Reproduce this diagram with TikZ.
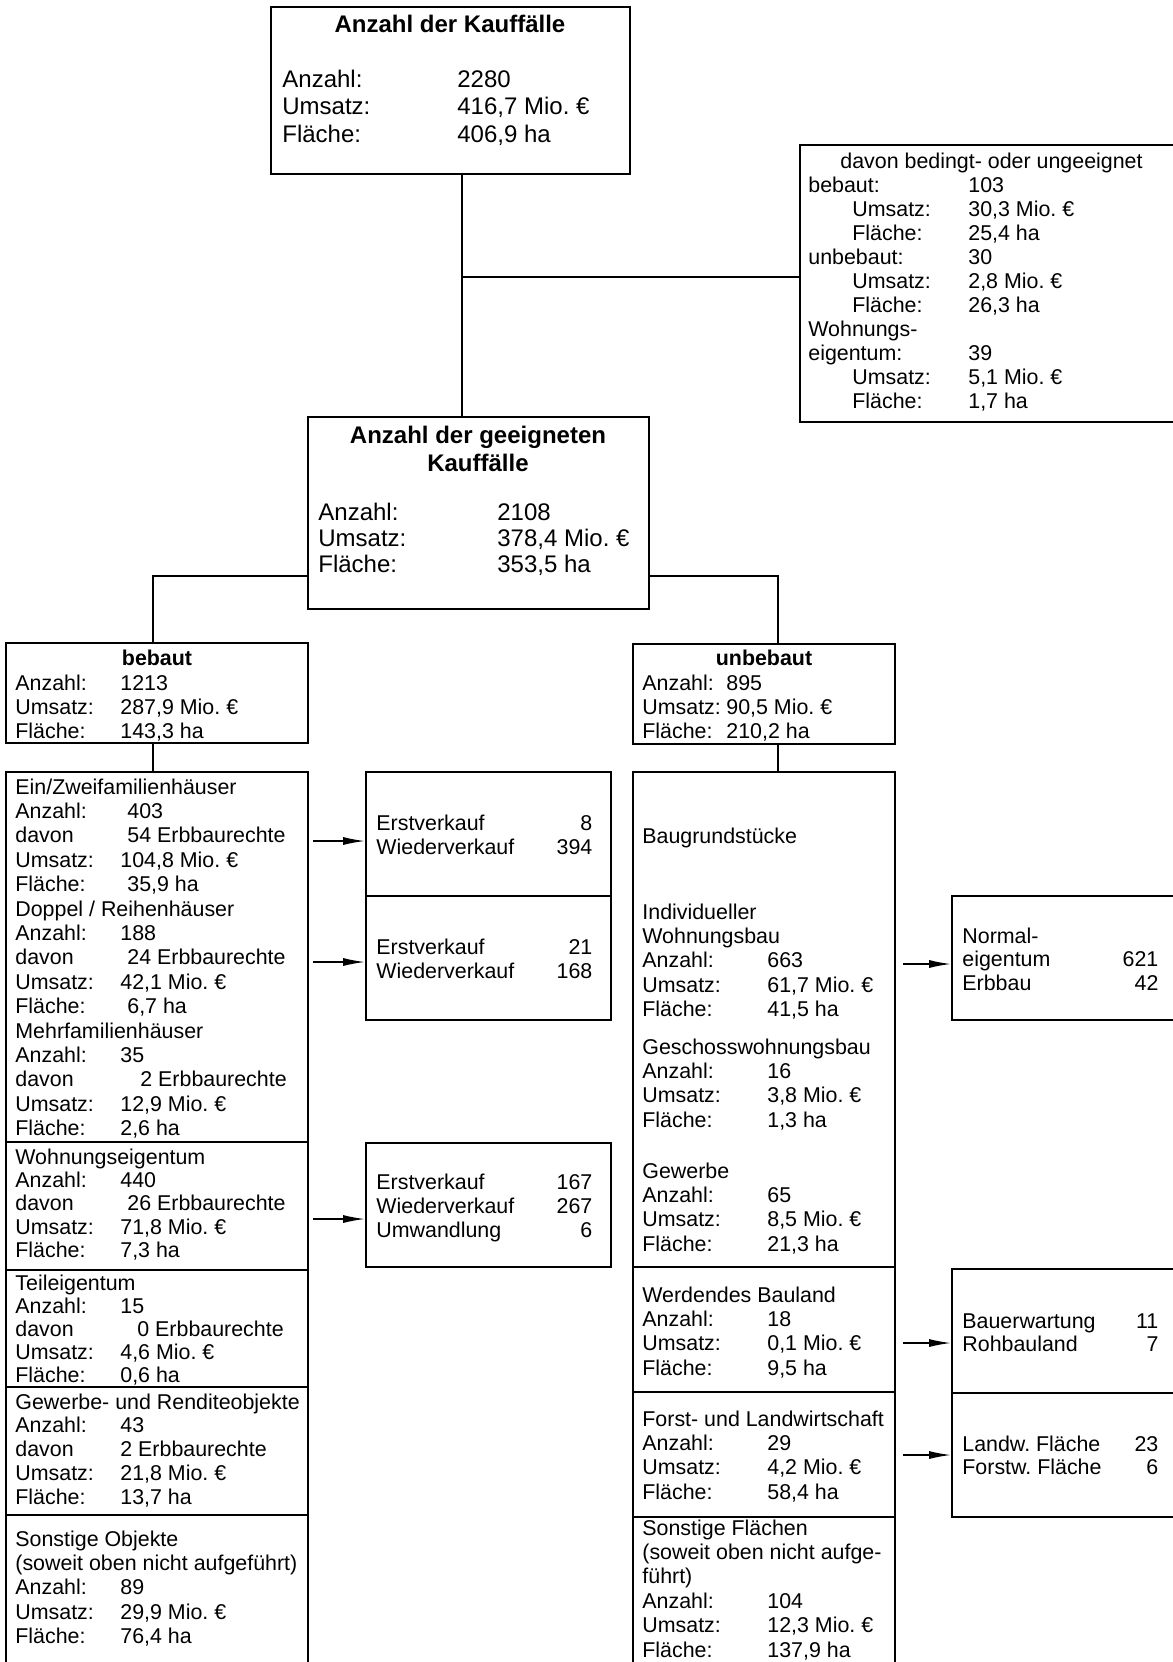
\documentclass[tikz,border=0pt]{standalone}
\usepackage{fontspec}
\setmainfont{Liberation Sans}
\usetikzlibrary{arrows.meta, fit, positioning}
\frenchspacing

\newlength\lw
\newlength\nw
\newcommand\blk[1]{\begin{tabular}[t]{@{}l@{}}#1\end{tabular}}
\newcommand\rw[2]{\makebox[\lw][l]{#1}#2}
\newcommand\ri[2]{\hspace*{22pt}\makebox[\dimexpr\lw-22pt\relax][l]{#1}#2}
\newcommand\nr[2]{\makebox[\nw][l]{#1}\llap{#2}}
\newcommand\vs{\hspace*{3.5pt}}

\begin{document}
\begin{tikzpicture}[x=0.5pt, y=-0.5pt,
    box/.style={draw, line width=1pt, inner sep=0pt},
    sbox/.style={draw, line width=0.8pt, inner sep=0pt},
    txt/.style={anchor=base west, inner sep=0pt, font=\fontsize{10.7}{12.2}\selectfont},
    big/.style={anchor=base west, inner sep=0pt, font=\fontsize{12}{13.75}\selectfont},
    ttl/.style={anchor=base, inner sep=0pt, font=\fontsize{12}{14}\selectfont\bfseries},
    sttl/.style={anchor=base, inner sep=0pt, font=\fontsize{10.7}{12.2}\selectfont\bfseries},
    lw/.style={execute at begin node={\setlength\lw{#1}}},
    nw/.style={execute at begin node={\setlength\nw{#1}}},
    con/.style={line width=1pt},
    arr/.style={-{Latex[length=11pt,width=4pt]}, line width=0.8pt}]
    \useasboundingbox (0,0) rectangle (1173,1662);
    \clip (0,0) rectangle (1173,1662);

    \node[box, fit={(271,7) (630,174)}] (total) {};
    \node[box, fit={(800,145) (1190,422)}] (davon) {};
    \node[box, fit={(308,417) (649,609)}] (geeig) {};
    \node[box, fit={(6,643) (308,743)}] (bebaut) {};
    \node[box, fit={(633,644) (895,744)}] (unbeb) {};

    \node[box, fit={(6,772) (308,1142)}] (haus) {};
    \node[box, fit={(6,1142) (308,1270)}] (wohn) {};
    \node[box, fit={(6,1270) (308,1387)}] (teil) {};
    \node[box, fit={(6,1387) (308,1515)}] (gew) {};
    \node[box, fit={(6,1515) (308,1700)}] (sonst) {};

    \node[box, fit={(633,772) (895,1267)}] (bau) {};
    \node[box, fit={(633,1267) (895,1392)}] (werd) {};
    \node[box, fit={(633,1392) (895,1517)}] (forst) {};
    \node[box, fit={(633,1517) (895,1700)}] (sfl) {};

    \node[sbox, fit={(366,772) (611,896)}] (vk1) {};
    \node[sbox, fit={(366,896) (611,1020)}] (vk2) {};
    \node[sbox, fit={(366,1143) (611,1267)}] (vk3) {};
    \node[sbox, fit={(952,896) (1190,1020)}] (eig) {};
    \node[sbox, fit={(952,1269) (1190,1393)}] (wbl) {};
    \node[sbox, fit={(952,1393) (1190,1517)}] (lfl) {};

    \coordinate (j0) at (462,277);
    \coordinate (jl) at (153,576);
    \coordinate (jr) at (778,576);
    \draw[con] (total.south -| j0) -- (geeig.north -| j0);
    \draw[con] (j0) -- (davon.west |- j0);
    \draw[con] (geeig.west |- jl) -- (jl) -- (bebaut.north -| jl);
    \draw[con] (geeig.east |- jr) -- (jr) -- (unbeb.north -| jr);
    \draw[con] (bebaut.south -| jl) -- (haus.north -| jl);
    \draw[con] (unbeb.south -| jr) -- (bau.north -| jr);

    \coordinate (p1) at (0,841);
    \coordinate (p2) at (0,962);
    \coordinate (p3) at (0,1219);
    \coordinate (q1) at (0,964);
    \coordinate (q2) at (0,1343);
    \coordinate (q3) at (0,1455);
    \draw[arr, shorten <=2pt] (haus.east |- p1) -- (vk1.west |- p1);
    \draw[arr, shorten <=2pt] (haus.east |- p2) -- (vk2.west |- p2);
    \draw[arr, shorten <=2pt] (wohn.east |- p3) -- (vk3.west |- p3);
    \draw[arr, shorten <=3.5pt] (bau.east |- q1) -- (eig.west |- q1);
    \draw[arr, shorten <=3.5pt] (werd.east |- q2) -- (wbl.west |- q2);
    \draw[arr, shorten <=3.5pt] (forst.east |- q3) -- (lfl.west |- q3);

    \node[ttl] (totalT) at (450,32) {Anzahl der Kauffälle};
    \node[big, lw=87.5pt] (totalD) at (282,87) {\blk{\rw{Anzahl:}{2280}\\ \rw{Umsatz:}{416,7 Mio. €}\\ \rw{Fläche:}{406,9 ha}}};

    \node[txt, lw=80pt, font=\fontsize{10.7}{12}\selectfont] (davonD) at (808,168) {\blk{\hspace*{16pt}davon bedingt- oder ungeeignet\\ \rw{bebaut:}{103}\\ \ri{Umsatz:}{30,3 Mio. €}\\ \ri{Fläche:}{25,4 ha}\\ \rw{unbebaut:}{30}\\ \ri{Umsatz:}{2,8 Mio. €}\\ \ri{Fläche:}{26,3 ha}\\ Wohnungs-\\ \rw{eigentum:}{39}\\ \ri{Umsatz:}{5,1 Mio. €}\\ \ri{Fläche:}{1,7 ha}}};

    \node[ttl] (geeigT) at (478,443) {\begin{tabular}[t]{@{}c@{}}Anzahl der geeigneten\\ Kauffälle\end{tabular}};
    \node[big, lw=89.5pt, font=\fontsize{12}{13}\selectfont] (geeigD) at (318,520) {\blk{\rw{Anzahl:}{2108}\\ \rw{Umsatz:}{378,4 Mio. €}\\ \rw{Fläche:}{353,5 ha}}};

    \node[sttl] (bebautT) at (157,665) {bebaut};
    \node[txt, lw=52.5pt] (bebautD) at (15,690) {\blk{\rw{Anzahl:}{1213}\\ \rw{Umsatz:}{287,9 Mio. €}\\ \rw{Fläche:}{143,3 ha}}};
    \node[sttl] (unbebT) at (764,665) {unbebaut};
    \node[txt, lw=42pt] (unbebD) at (642,690) {\blk{\rw{Anzahl:}{895}\\ \rw{Umsatz:}{90,5 Mio. €}\\ \rw{Fläche:}{210,2 ha}}};

    \node[txt, lw=52.5pt] (hausD) at (15,794) {\blk{Ein/Zweifamilienhäuser\\ \rw{Anzahl:}{\vs403}\\ \rw{davon}{\vs54 Erbbaurechte}\\ \rw{Umsatz:}{104,8 Mio. €}\\ \rw{Fläche:}{\vs35,9 ha}\\
        Doppel / Reihenhäuser\\ \rw{Anzahl:}{188}\\ \rw{davon}{\vs24 Erbbaurechte}\\ \rw{Umsatz:}{42,1 Mio. €}\\ \rw{Fläche:}{\vs6,7 ha}\\
        Mehrfamilienhäuser\\ \rw{Anzahl:}{35}\\ \rw{davon}{\hspace*{10pt}2 Erbbaurechte}\\ \rw{Umsatz:}{12,9 Mio. €}\\ \rw{Fläche:}{2,6 ha}}};
    \node[txt, lw=52.5pt, font=\fontsize{10.7}{11.7}\selectfont] (wohnD) at (15,1164) {\blk{Wohnungseigentum\\ \rw{Anzahl:}{440}\\ \rw{davon}{\vs26 Erbbaurechte}\\ \rw{Umsatz:}{71,8 Mio. €}\\ \rw{Fläche:}{7,3 ha}}};
    \node[txt, lw=52.5pt, font=\fontsize{10.7}{11.5}\selectfont] (teilD) at (15,1290) {\blk{Teileigentum\\ \rw{Anzahl:}{15}\\ \rw{davon}{\hspace*{8.5pt}0 Erbbaurechte}\\ \rw{Umsatz:}{4,6 Mio. €}\\ \rw{Fläche:}{0,6 ha}}};
    \node[txt, lw=52.5pt, font=\fontsize{10.7}{11.9}\selectfont] (gewD) at (15,1409) {\blk{Gewerbe- und Renditeobjekte\\ \rw{Anzahl:}{43}\\ \rw{davon}{2 Erbbaurechte}\\ \rw{Umsatz:}{21,8 Mio. €}\\ \rw{Fläche:}{13,7 ha}}};
    \node[txt, lw=52.5pt] (sonstD) at (15,1546) {\blk{Sonstige Objekte\\ (soweit oben nicht aufgeführt)\\ \rw{Anzahl:}{89}\\ \rw{Umsatz:}{29,9 Mio. €}\\ \rw{Fläche:}{76,4 ha}}};

    \node[txt] (bauT) at (642,843) {Baugrundstücke};
    \node[txt, lw=62.5pt] (indD) at (642,919) {\blk{Individueller\\ Wohnungsbau\\ \rw{Anzahl:}{663}\\ \rw{Umsatz:}{61,7 Mio. €}\\ \rw{Fläche:}{41,5 ha}}};
    \node[txt, lw=62.5pt] (geschD) at (642,1054) {\blk{Geschosswohnungsbau\\ \rw{Anzahl:}{16}\\ \rw{Umsatz:}{3,8 Mio. €}\\ \rw{Fläche:}{1,3 ha}}};
    \node[txt, lw=62.5pt] (gewbD) at (642,1178) {\blk{Gewerbe\\ \rw{Anzahl:}{65}\\ \rw{Umsatz:}{8,5 Mio. €}\\ \rw{Fläche:}{21,3 ha}}};
    \node[txt, lw=62.5pt] (werdD) at (642,1302) {\blk{Werdendes Bauland\\ \rw{Anzahl:}{18}\\ \rw{Umsatz:}{0,1 Mio. €}\\ \rw{Fläche:}{9,5 ha}}};
    \node[txt, lw=62.5pt] (forstD) at (642,1426) {\blk{Forst- und Landwirtschaft\\ \rw{Anzahl:}{29}\\ \rw{Umsatz:}{4,2 Mio. €}\\ \rw{Fläche:}{58,4 ha}}};
    \node[txt, lw=62.5pt] (sflD) at (642,1535) {\blk{Sonstige Flächen\\ (soweit oben nicht aufge-\\ führt)\\ \rw{Anzahl:}{104}\\ \rw{Umsatz:}{12,3 Mio. €}\\ \rw{Fläche:}{137,9 ha}}};

    \node[txt, nw=108pt] (vk1D) at (376,830) {\blk{\nr{Erstverkauf}{8}\\ \nr{Wiederverkauf}{394}}};
    \node[txt, nw=108pt] (vk2D) at (376,954) {\blk{\nr{Erstverkauf}{21}\\ \nr{Wiederverkauf}{168}}};
    \node[txt, nw=108pt] (vk3D) at (376,1189) {\blk{\nr{Erstverkauf}{167}\\ \nr{Wiederverkauf}{267}\\ \nr{Umwandlung}{6}}};
    \node[txt, nw=98pt, font=\fontsize{10.7}{11.75}\selectfont] (eigD) at (962,943) {\blk{Normal-\\ \nr{eigentum}{621}\\ \nr{Erbbau}{42}}};
    \node[txt, nw=98pt, font=\fontsize{10.7}{11.8}\selectfont] (wblD) at (962,1328) {\blk{\nr{Bauerwartung}{11}\\ \nr{Rohbauland}{7}}};
    \node[txt, nw=98pt, font=\fontsize{10.7}{11.8}\selectfont] (lflD) at (962,1451) {\blk{\nr{Landw. Fläche}{23}\\ \nr{Forstw. Fläche}{6}}};
\end{tikzpicture}
\end{document}
